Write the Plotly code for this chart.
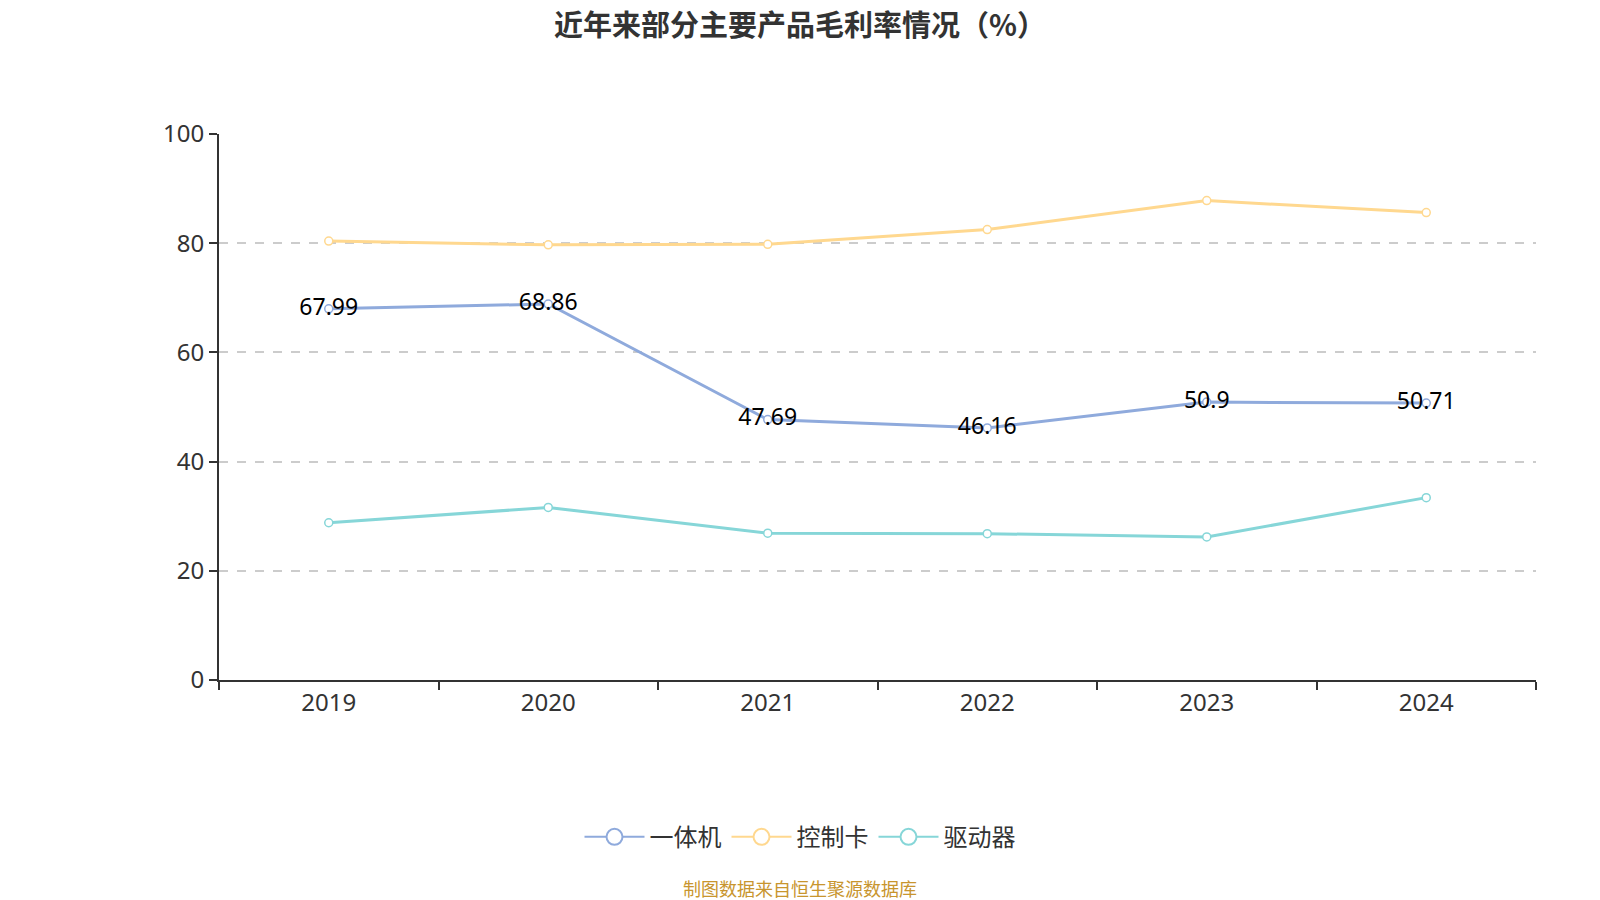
import plotly.graph_objects as go

years = ["2019", "2020", "2021", "2022", "2023", "2024"]
yitiji = [67.99, 68.86, 47.69, 46.16, 50.9, 50.71]
kongzhika = [80.4, 79.7, 79.8, 82.5, 87.8, 85.6]
qudongqi = [28.8, 31.6, 26.9, 26.8, 26.2, 33.4]

names = ["一体机", "控制卡", "驱动器"]
colors = ["#8FAADC", "#FFD88F", "#86D6D8"]
series = [yitiji, kongzhika, qudongqi]
labels = [True, False, False]

FONT = "Noto Sans, Noto Sans CJK SC, sans-serif"
CJK = "Noto Sans CJK SC, sans-serif"

fig = go.Figure()
for name, color, vals, lab in zip(names, colors, series, labels):
    fig.add_trace(go.Scatter(
        x=years, y=vals, name=name, showlegend=False,
        mode="lines+markers+text" if lab else "lines+markers",
        text=[str(v) for v in vals] if lab else None,
        textposition="middle center",
        textfont=dict(size=23, color="#000", family=FONT),
        line=dict(color=color, width=3),
        marker=dict(symbol="circle", size=8, color="white",
                    line=dict(color=color, width=1.5)),
        hoverinfo="x+y",
    ))
    # legend entry with larger symbol
    fig.add_trace(go.Scatter(
        x=[None], y=[None], name=name, mode="lines+markers",
        line=dict(color=color, width=2),
        marker=dict(symbol="circle", size=22, color="white",
                    line=dict(color=color, width=2)),
    ))

PX = (800 - 219) / 1317  # page centre in plot-area paper units

fig.update_layout(
    width=1600, height=900,
    paper_bgcolor="white", plot_bgcolor="white",
    margin=dict(l=219, r=64, t=134, b=220),
    font=dict(family=FONT, color="#333"),
    title=dict(text="<b>近年来部分主要产品毛利率情况（%）</b>",
               x=0.5, xanchor="center", y=0.971, yanchor="middle",
               font=dict(size=29, color="#333", family=CJK)),
    legend=dict(orientation="h", x=PX, xanchor="center", y=-0.288, yanchor="middle",
                font=dict(size=24, color="#333", family=CJK),
                itemwidth=60, tracegroupgap=0),
    xaxis=dict(type="category", range=[-0.5, 5.5], showline=True, linecolor="#333", linewidth=2,
               ticks="outside", tickson="boundaries", ticklen=8, tickcolor="#333",
               tickwidth=1.5,
               tickfont=dict(size=24, color="#333", family=FONT),
               showgrid=False, zeroline=False),
    yaxis=dict(range=[0, 100], dtick=20, showline=True, linecolor="#333", linewidth=2,
               ticks="outside", ticklen=8, tickcolor="#333", tickwidth=1.5,
               tickfont=dict(size=24, color="#333", family=FONT),
               showgrid=True, gridcolor="#CCCCCC", griddash="dash", gridwidth=1.5,
               zeroline=False),
)

fig.add_annotation(text="制图数据来自恒生聚源数据库", xref="paper", yref="paper",
                   x=PX, y=-0.381, xanchor="center", yanchor="middle", showarrow=False,
                   font=dict(size=18, color="#C8952E", family=CJK))

fig.write_html("out.html")
